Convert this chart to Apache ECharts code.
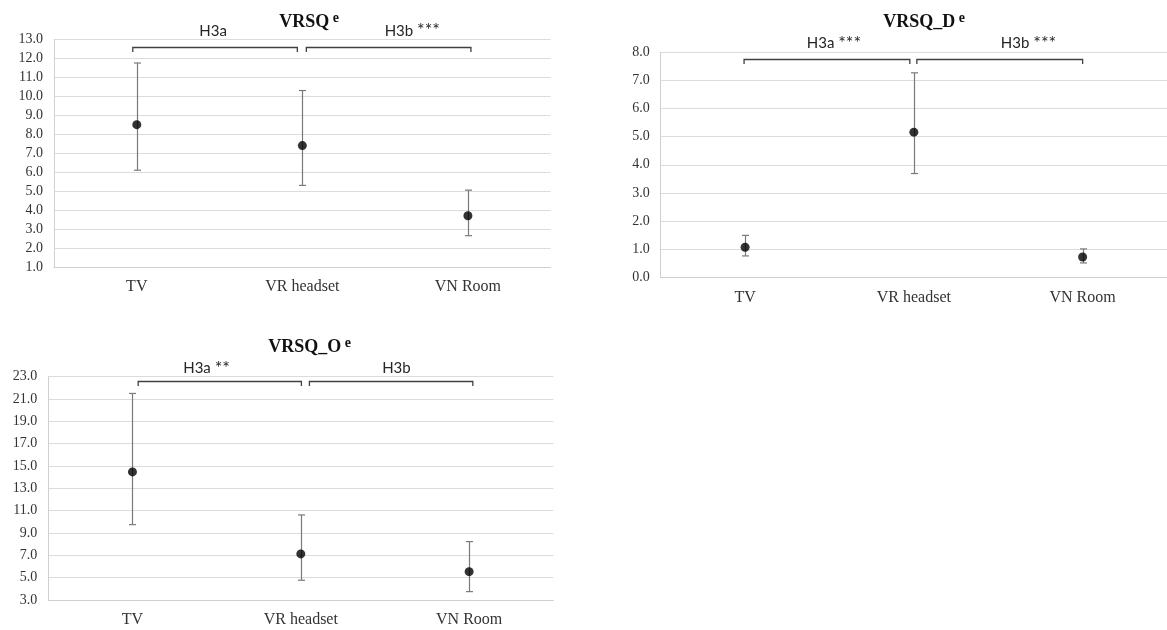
<!DOCTYPE html>
<html>
<head>
<meta charset="utf-8">
<script src="https://cdn.jsdelivr.net/npm/echarts@6/dist/echarts.min.js"></script>
<style>
html,body{margin:0;padding:0;background:#fff;overflow:hidden;}
#main{width:1167px;height:630px;}
</style>
</head>
<body>
<div id="main"></div>
<script>
// ---- data ----
const categories = ['TV', 'VR headset', 'VN Room'];

const vrsqMean = [8.5, 7.4, 3.7];
const vrsqLow  = [6.1, 5.3, 2.65];
const vrsqHigh = [11.75, 10.3, 5.05];

const vrsqDMean = [1.07, 5.16, 0.72];
const vrsqDLow  = [0.76, 3.69, 0.51];
const vrsqDHigh = [1.49, 7.27, 1.01];

const vrsqOMean = [14.47, 7.13, 5.54];
const vrsqOLow  = [9.75, 4.77, 3.75];
const vrsqOHigh = [21.5, 10.62, 8.23];

const vrsqComparisons  = ['H3a', 'H3b ***'];
const vrsqDComparisons = ['H3a ***', 'H3b ***'];
const vrsqOComparisons = ['H3a **', 'H3b'];

const titles = ['VRSQ', 'VRSQ_D', 'VRSQ_O'];
const titleSup = 'e';

// ---- layout / style (not data) ----
const panels = [
  {grid:{left:54, top:39.3, width:496.7, height:227.7}, y:{min:1, max:13, interval:1},
   mean:vrsqMean, low:vrsqLow, high:vrsqHigh, cmp:vrsqComparisons,
   bracketY:12.61, ends:[[-4,-5],[4,3]], labelDx:[-2,23.7], labelDy:-16.7,
   title:{x:309, y:22}},
  {grid:{left:660.7, top:52.3, width:514, height:225}, y:{min:0, max:8, interval:1},
   mean:vrsqDMean, low:vrsqDLow, high:vrsqDHigh, cmp:vrsqDComparisons,
   bracketY:7.75, ends:[[-1,-4],[3,0]], labelDx:[7,28.8], labelDy:-16,
   title:{x:924, y:22}},
  {grid:{left:48.3, top:376.7, width:505, height:223.3}, y:{min:3, max:23, interval:2},
   mean:vrsqOMean, low:vrsqOLow, high:vrsqOHigh, cmp:vrsqOComparisons,
   bracketY:22.64, ends:[[5.7,0.6],[8.6,3.7]], labelDx:[-13.2,5.3], labelDy:-13,
   title:{x:309.6, y:347}}
];

const serif = '"Liberation Serif", "Times New Roman", serif';
const sans = 'Lato, "Open Sans", sans-serif';
const textGray = '#404040';

function richLabel(s) {
  const m = s.match(/^(\S+)(\s+)(\*+)$/);
  if (!m) return '{h|' + s + '}';
  return '{h|' + m[1] + ' }{a|' + m[3] + '}';
}

const grids = [], xAxes = [], yAxes = [], series = [], graphics = [];

panels.forEach((p, i) => {
  grids.push(Object.assign({containLabel:false}, p.grid));
  xAxes.push({
    type:'category', gridIndex:i, data:categories, boundaryGap:true,
    axisLine:{show:true, lineStyle:{color:'#d0d0d0', width:1}},
    axisTick:{show:false},
    axisLabel:{fontFamily:serif, fontSize:16, color:'#333', margin:12}
  });
  yAxes.push({
    type:'value', gridIndex:i, min:p.y.min, max:p.y.max, interval:p.y.interval,
    axisLine:{show:true, lineStyle:{color:'#d0d0d0', width:1}},
    axisTick:{show:false},
    splitLine:{show:true, lineStyle:{color:'#dcdcdc', width:1}},
    axisLabel:{fontFamily:serif, fontSize:14, color:'#333', margin:11,
      formatter: v => v.toFixed(1)}
  });

  // error bars
  series.push({
    type:'custom', xAxisIndex:i, yAxisIndex:i, z:2,
    data: categories.map((c, k) => [k, p.low[k], p.high[k]]),
    renderItem: (params, api) => {
      const lo = api.coord([api.value(0), api.value(1)]);
      const hi = api.coord([api.value(0), api.value(2)]);
      const x = Math.round(lo[0]) + 0.5;
      const cap = 3.5;
      const st = {stroke:'#7a7a7a', lineWidth:1.2, fill:null};
      return {type:'group', children:[
        {type:'line', shape:{x1:x, y1:hi[1], x2:x, y2:lo[1]}, style:st},
        {type:'line', shape:{x1:x-cap, y1:hi[1], x2:x+cap, y2:hi[1]}, style:st},
        {type:'line', shape:{x1:x-cap, y1:lo[1], x2:x+cap, y2:lo[1]}, style:st}
      ]};
    }
  });

  // means
  series.push({
    type:'scatter', xAxisIndex:i, yAxisIndex:i, z:3,
    symbol:'circle', symbolSize:9,
    itemStyle:{color:'#000'},
    data: p.mean.map((v, k) => [k, v])
  });

  // comparison brackets
  series.push({
    type:'custom', xAxisIndex:i, yAxisIndex:i, z:4, clip:false,
    data: p.cmp.map((lab, k) => [k, k+1, p.bracketY, k]),
    renderItem: (params, api) => {
      const k = api.value(3);
      const a = api.coord([api.value(0), api.value(2)]);
      const b = api.coord([api.value(1), api.value(2)]);
      const x1 = a[0] + p.ends[k][0], x2 = b[0] + p.ends[k][1];
      const y = Math.round(a[1]) + 0.5;
      const tick = 4.5;
      const st = {stroke:'#404040', lineWidth:1.3, fill:null};
      return {type:'group', children:[
        {type:'polyline', shape:{points:[[x1, y+tick],[x1, y],[x2, y],[x2, y+tick]]}, style:st},
        {type:'text', x:(x1+x2)/2 + p.labelDx[k], y:y + p.labelDy,
         style:{text:richLabel(p.cmp[k]),
                align:'center', verticalAlign:'middle',
                rich:{
                  h:{fontFamily:sans, fontSize:15, fill:'#262626', lineHeight:18},
                  a:{fontFamily:sans, fontSize:18, fill:'#262626', lineHeight:18, padding:[0,0,1,0]}
                }}}
      ]};
    }
  });

  graphics.push({
    type:'text', x:p.title.x, y:p.title.y,
    style:{
      text:'{t|' + titles[i] + '}{s| ' + titleSup + '}',
      align:'center', verticalAlign:'middle',
      rich:{
        t:{fontFamily:serif, fontWeight:'bold', fontSize:18, fill:'#111', lineHeight:22},
        s:{fontFamily:serif, fontWeight:'bold', fontSize:14, fill:'#111', lineHeight:10, verticalAlign:'top'}
      }
    }
  });
});

const chart = echarts.init(document.getElementById('main'), null, {renderer:'canvas'});
chart.setOption({
  animation:false,
  backgroundColor:'#fff',
  grid:grids, xAxis:xAxes, yAxis:yAxes, series:series, graphic:graphics
});
</script>
</body>
</html>
